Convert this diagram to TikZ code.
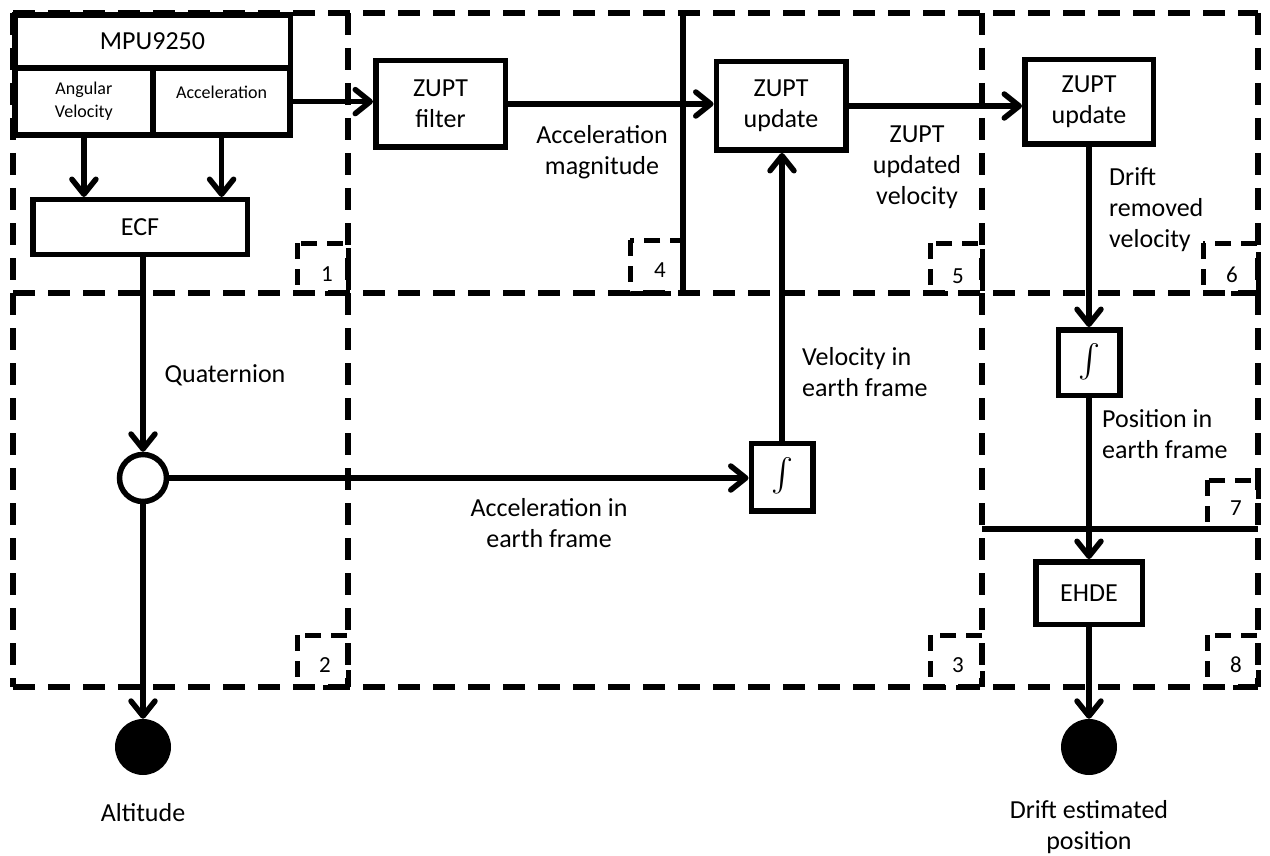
\documentclass[tikz,border=0pt]{standalone}
\usepackage{graphicx}
\usepackage{fontspec}
\setmainfont{Carlito}
\usetikzlibrary{arrows.meta}
\newcommand\bigf{\fontsize{26}{31}\selectfont}
\newcommand\smallf{\fontsize{18}{23}\selectfont}
\newcommand\numf{\fontsize{23}{27}\selectfont}
\newcommand\intsym{\scalebox{3.3}{$\int$}}
\begin{document}
\begin{tikzpicture}[x=1pt,y=-1pt,
  box/.style={draw,line width=5.5pt,fill=white,inner sep=0pt,align=center,font=\bigf},
  lbl/.style={inner sep=0pt,align=center,font=\bigf},
  lbll/.style={inner sep=0pt,align=left,font=\bigf,anchor=west},
  region/.style={draw,line width=5.5pt,dash pattern=on 22pt off 13pt},
  tag/.style={draw,line width=5pt,dash pattern=on 16pt off 10pt},
  num/.style={inner sep=0pt,font=\numf},
  solidline/.style={line width=5.5pt},
  conn/.style={line width=5.5pt,-{Straight Barb[length=15pt,width=24pt,round]}},
  dot/.style={circle,fill=black,minimum size=56pt,inner sep=0pt},
]
\useasboundingbox (0,0) rectangle (1270,856);
% region borders
\draw[region] (13,13) -- (1258,13);
\draw[region] (13,293) -- (1258,293);
\draw[region] (13,687) -- (1258,687);
\draw[region] (13,13) -- (13,687);
\draw[region] (348,13) -- (348,687);
\draw[region] (982,13) -- (982,687);
\draw[region] (1258,13) -- (1258,687);
\draw[solidline] (683,13) -- (683,293);
\draw[solidline] (982,529) -- (1258,529);
% tags
\draw[tag] (297,243) rectangle (348,293);
\draw[tag] (630,240) rectangle (683,293);
\draw[tag] (930,243) rectangle (982,293);
\draw[tag] (1203,243) rectangle (1258,293);
\draw[tag] (297,635) rectangle (348,687);
\draw[tag] (930,635) rectangle (982,687);
\draw[tag] (1207,480) rectangle (1258,529);
\draw[tag] (1207,635) rectangle (1258,687);
\node[num] (n1) at (327,274) {1};
\node[num] (n4) at (660,270) {4};
\node[num] (n5) at (958,276) {5};
\node[num] (n6) at (1232,275) {6};
\node[num] (n2) at (325,665) {2};
\node[num] (n3) at (958,665) {3};
\node[num] (n7) at (1236,508) {7};
\node[num] (n8) at (1236,665) {8};
% blocks
\node[box,minimum width=275.5pt,minimum height=53.25pt] (mpu) at (152.5,41.4) {MPU9250};
\node[box,font=\smallf,minimum width=138.25pt,minimum height=67.25pt] (av) at (83.9,101.6) {Angular\\Velocity};
\node[box,minimum width=137.25pt,minimum height=67.25pt] (acc) at (221.6,101.6) {};
\node[lbl,font=\smallf,anchor=north] (acct) at (221.6,86) {Acceleration};
\node[box,minimum width=214.5pt,minimum height=54.5pt] (ecf) at (140,227) {ECF};
\node[box,minimum width=129.5pt,minimum height=86.5pt] (zf) at (440.5,104) {ZUPT\\filter};
\node[box,minimum width=129.5pt,minimum height=88.5pt] (zu1) at (781,106) {ZUPT\\update};
\node[box,minimum width=128.5pt,minimum height=84.5pt] (zu2) at (1089,102) {ZUPT\\update};
\node[box,minimum width=61.5pt,minimum height=67.5pt] (int1) at (782,477) {\intsym};
\node[box,minimum width=61.5pt,minimum height=65.5pt] (int2) at (1089,362.5) {\intsym};
\node[box,minimum width=106.5pt,minimum height=62.5pt] (ehde) at (1089,593) {EHDE};
\node[draw,circle,line width=5.5pt,fill=white,minimum size=47pt,inner sep=0pt] (circ) at (143,478) {};
\node[dot] (alt) at (143,747) {};
\node[dot] (pos) at (1089,747) {};
% labels
\node[lbl] (l1) at (602,152) {Acceleration\\magnitude};
\node[lbl] (l2) at (917,167) {ZUPT\\updated\\velocity};
\node[lbll] (l3) at (1109,210) {Drift\\removed\\velocity};
\node[lbl] (l4) at (225,375) {Quaternion};
\node[lbll] (l5) at (802,372) {Velocity in\\earth frame};
\node[lbl] (l6) at (549,523) {Acceleration in\\earth frame};
\node[lbll] (l7) at (1102,434) {Position in\\earth frame};
\node[lbl] (l8) at (143,813) {Altitude};
\node[lbl] (l9) at (1089,827) {Drift estimated\\position};
% connectors
\draw[conn] (av.south) -- (av.south |- ecf.north);
\draw[conn] (acc.south) -- (acc.south |- ecf.north);
\draw[conn] (acc.east) -- (acc.east -| zf.west);
\draw[conn] (zf.east) -- (zf.east -| zu1.west);
\draw[conn] (zu1.east) -- (zu1.east -| zu2.west);
\draw[conn] (zu2.south) -- (int2.north);
\draw[conn] (int2.south) -- (ehde.north);
\draw[conn] (ehde.south) -- (pos.north);
\draw[conn] (circ |- ecf.south) -- (circ.north);
\draw[conn] (circ.east) -- (circ.east -| int1.west);
\draw[conn] (circ.south) -- (alt.north);
\draw[conn] (int1.north) -- (int1.north |- zu1.south);
\end{tikzpicture}
\end{document}
